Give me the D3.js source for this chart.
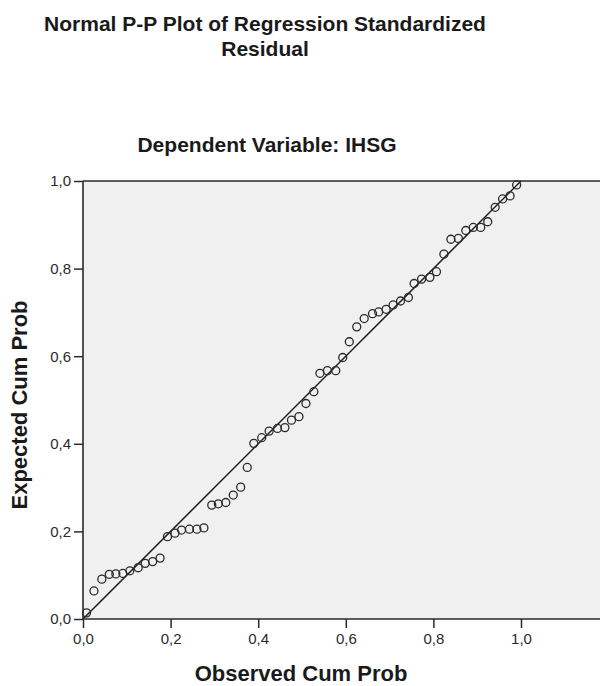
<!DOCTYPE html>
<html>
<head>
<meta charset="utf-8">
<script src="https://cdn.jsdelivr.net/npm/d3@7"></script>
<style>
  body { margin: 0; background: #fff; }
  text { font-family: "Liberation Sans", Arial, sans-serif; fill: #1a1a1a; }
</style>
</head>
<body>
<div id="chart"></div>
<script>

// observed / expected cumulative probabilities
var observed = [0.008, 0.025, 0.043, 0.060, 0.075, 0.091, 0.107, 0.126, 0.142, 0.159,
                0.176, 0.193, 0.210, 0.225, 0.243, 0.260, 0.276, 0.294, 0.309, 0.326,
                0.343, 0.360, 0.375, 0.390, 0.408, 0.425, 0.444, 0.461, 0.476, 0.493,
                0.509, 0.527, 0.541, 0.558, 0.577, 0.593, 0.608, 0.625, 0.642, 0.661,
                0.675, 0.692, 0.708, 0.725, 0.743, 0.756, 0.773, 0.792, 0.807, 0.824,
                0.840, 0.857, 0.874, 0.891, 0.908, 0.924, 0.941, 0.958, 0.975, 0.990];
var expected = [0.014, 0.064, 0.091, 0.102, 0.103, 0.104, 0.110, 0.117, 0.127, 0.131,
                0.139, 0.188, 0.196, 0.203, 0.205, 0.205, 0.208, 0.260, 0.263, 0.266,
                0.283, 0.301, 0.346, 0.401, 0.414, 0.429, 0.435, 0.437, 0.454, 0.462,
                0.492, 0.519, 0.561, 0.567, 0.567, 0.597, 0.633, 0.667, 0.686, 0.697,
                0.701, 0.707, 0.717, 0.726, 0.734, 0.766, 0.776, 0.780, 0.793, 0.833,
                0.867, 0.869, 0.887, 0.894, 0.894, 0.907, 0.940, 0.959, 0.966, 0.991];
var tickValues = [0, 0.2, 0.4, 0.6, 0.8, 1.0];
var refLine = [0, 1];

var width = 600, height = 686;
var margin = {top: 181, left: 83};
var unit = 438;

var svg = d3.select("#chart").append("svg")
    .attr("width", width)
    .attr("height", height);

var x = d3.scaleLinear().domain([0, 1.2]).range([margin.left, margin.left + 1.2 * unit]);
var y = d3.scaleLinear().domain([0, 1]).range([margin.top + unit, margin.top]);

var fmt = function(d) { return d3.format(".1f")(d).replace(".", ","); };

// plot background
svg.append("rect")
    .attr("x", x(0))
    .attr("y", y(1))
    .attr("width", width - x(0))
    .attr("height", y(0) - y(1))
    .style("fill", "#f0f0f0");

// reference diagonal
svg.append("line")
    .attr("x1", x(refLine[0])).attr("y1", y(refLine[0]))
    .attr("x2", x(refLine[1])).attr("y2", y(refLine[1]))
    .style("stroke", "#1e1e1e")
    .style("stroke-width", "1.5px");

// points
var pts = observed.map(function(d, i) { return {o: d, e: expected[i]}; });
svg.append("g").selectAll("circle")
    .data(pts)
    .enter()
    .append("circle")
    .attr("cx", function(d) { return x(d.o); })
    .attr("cy", function(d) { return y(d.e); })
    .attr("r", 4)
    .style("fill", "none")
    .style("stroke", "#2a2a2a")
    .style("stroke-width", "1.3px");

// axes
var xAxis = svg.append("g")
    .attr("transform", "translate(0," + y(0) + ")")
    .call(d3.axisBottom(x).tickValues(tickValues).tickFormat(fmt).tickSize(9).tickPadding(5));
var yAxis = svg.append("g")
    .attr("transform", "translate(" + x(0) + ",0)")
    .call(d3.axisLeft(y).tickValues(tickValues).tickFormat(fmt).tickSize(9).tickPadding(3));

[xAxis, yAxis].forEach(function(a) {
    a.select(".domain").remove();
    a.selectAll(".tick line").style("stroke", "#2a2a2a").style("stroke-width", "1.5px");
    a.selectAll(".tick text")
        .style("font-family", "'Liberation Sans', Arial, sans-serif")
        .style("font-size", "15px")
        .style("fill", "#2a2a2a");
});

// frame: left, bottom, top
var frame = [[x(0), y(0), x(0), y(1)], [x(0), y(0), width, y(0)], [x(0), y(1), width, y(1)]];
svg.append("g").selectAll("line")
    .data(frame)
    .enter()
    .append("line")
    .attr("x1", function(d) { return d[0]; })
    .attr("y1", function(d) { return d[1]; })
    .attr("x2", function(d) { return d[2]; })
    .attr("y2", function(d) { return d[3]; })
    .style("stroke", "#2a2a2a")
    .style("stroke-width", "1.6px");

// titles
svg.append("text")
    .attr("x", 265).attr("y", 31)
    .attr("text-anchor", "middle")
    .style("font-size", "21px").style("font-weight", "bold")
    .text("Normal P-P Plot of Regression Standardized");
svg.append("text")
    .attr("x", 265).attr("y", 56)
    .attr("text-anchor", "middle")
    .style("font-size", "21px").style("font-weight", "bold")
    .text("Residual");
svg.append("text")
    .attr("x", 267).attr("y", 152)
    .attr("text-anchor", "middle")
    .style("font-size", "21px").style("font-weight", "bold")
    .text("Dependent Variable: IHSG");

// axis titles
svg.append("text")
    .attr("x", 301).attr("y", 681)
    .attr("text-anchor", "middle")
    .style("font-size", "22px").style("font-weight", "bold")
    .text("Observed Cum Prob");
svg.append("text")
    .attr("transform", "translate(27,405)rotate(-90)")
    .attr("text-anchor", "middle")
    .style("font-size", "22px").style("font-weight", "bold")
    .text("Expected Cum Prob");

</script>
</body>
</html>
